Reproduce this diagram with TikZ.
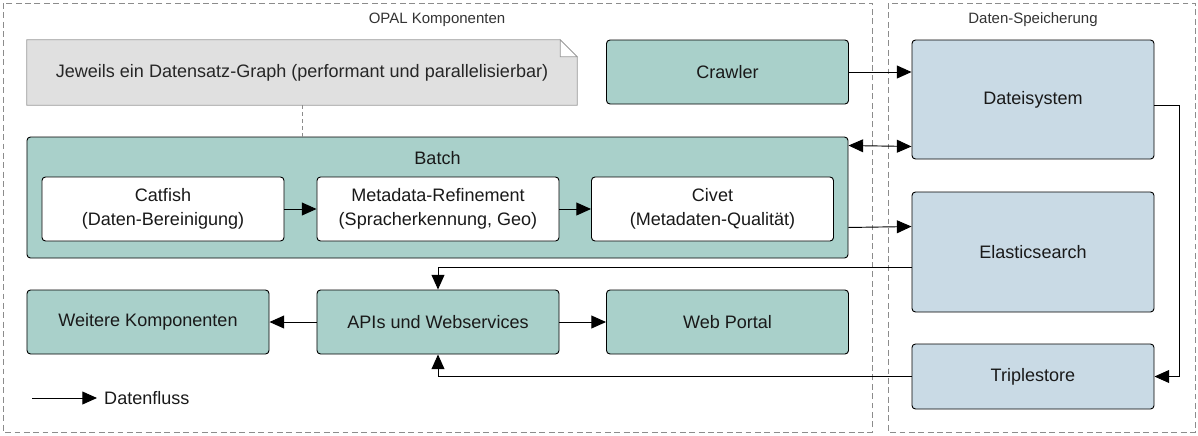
\documentclass[tikz,border=0pt]{standalone}
\usepackage{fontspec}
\setmainfont{Liberation Sans}
\usetikzlibrary{arrows.meta, positioning, calc, backgrounds}

\definecolor{compgreen}{HTML}{A9D0CA}
\definecolor{storeblue}{HTML}{C9DAE5}
\definecolor{notegray}{HTML}{E0E0E0}
\definecolor{framegray}{HTML}{8C8C8C}

\begin{document}
\begin{tikzpicture}[x=0.03cm, y=-0.03cm,
    box/.style={draw, rounded corners=3pt, line width=0.8pt, align=center, inner sep=0pt,
      font=\fontsize{15.4}{20.5}\selectfont, text=black!90},
    comp/.style={box, fill=compgreen, minimum width=7.26cm, minimum height=1.92cm},
    sub/.style={box, fill=white, minimum width=7.26cm, minimum height=1.92cm},
    store/.style={box, fill=storeblue, minimum width=7.26cm},
    frame/.style={draw=framegray, dash pattern=on 5pt off 3pt, line width=0.6pt},
    caption/.style={font=\fontsize{12.8}{15}\selectfont, text=black!80},
    flow/.style={-{Triangle[length=12.5pt, width=11pt]}, line width=0.8pt},
    flowboth/.style={{Triangle[length=12.5pt, width=11pt]}-{Triangle[length=12.5pt, width=11pt]}, line width=0.8pt}]
  \useasboundingbox (0,0) rectangle (1198,435);

  % frames
  \draw[frame] (3,3) rectangle (872,432);
  \draw[frame] (888,3) rectangle (1195,432);
  \node[caption] (opal) at (437,20) {OPAL Komponenten};
  \node[caption] (speicher) at (1033,20) {Daten-Speicherung};

  % note
  \node[font=\fontsize{15.4}{20.5}\selectfont, text=black!85, minimum width=16.5cm, minimum height=1.95cm] (note) at (302,72.5)
    {Jeweils ein Datensatz-Graph (performant und parallelisierbar)};
  \begin{scope}[on background layer]
    \draw[draw=black!40, fill=notegray, line width=0.6pt] (note.north west) -- ($(note.north east)+(-17,0)$)
      -- ($(note.north east)+(0,17)$) -- (note.south east) -- (note.south west) -- cycle;
    \draw[draw=black!40, fill=white, line width=0.6pt] ($(note.north east)+(-17,0)$) -- ($(note.north east)+(-17,17)$)
      -- ($(note.north east)+(0,17)$) -- cycle;
  \end{scope}

  % components
  \node[comp] (crawler) at (727.5,72) {Crawler};
  \node[comp, minimum width=24.63cm, minimum height=3.63cm] (batch) at (437.5,197.5) {};
  \node[box, draw=none, fill=none] (batchlbl) at (437.5,158) {Batch};
  \node[sub] (catfish) at (163,209) {Catfish\\(Daten-Bereinigung)};
  \node[sub] (refine) at (438,209) {Metadata-Refinement\\(Spracherkennung, Geo)};
  \node[sub] (civet) at (712.5,209) {Civet\\(Metadaten-Qualität)};
  \node[comp] (weitere) at (148,322) {Weitere Komponenten};
  \node[comp] (apis) at (438,322) {APIs und Webservices};
  \node[comp] (portal) at (727.5,322) {Web Portal};

  % storage
  \node[store, minimum height=3.57cm] (dateisystem) at (1033,99.5) {Dateisystem};
  \node[store, minimum height=3.6cm] (elastic) at (1033,252) {Elasticsearch};
  \node[store, minimum height=1.95cm] (triple) at (1033,376.5) {Triplestore};

  \draw[dashed, draw=black!45, line width=0.6pt] (note.south) -- (note.south |- batch.north);

  % data flow
  \draw[flow] (crawler.east) -- (crawler.east -| dateisystem.west);
  \draw[flowboth] ($(batch.north east)+(0,9)$) -- ($(dateisystem.south west)+(0,-13)$);
  \draw[flow] ($(batch.south east)+(0,-31)$) -- ($(elastic.north west)+(0,35)$);
  \draw[flow] (catfish) -- (refine);
  \draw[flow] (refine) -- (civet);
  \draw[flow] ($(elastic.south west)+(0,-45)$) -| (apis.north);
  \draw[flow] (triple.west) -| (apis.south);
  \draw[flow] ($(dateisystem.east)+(0,6)$) -- ++(25,0) |- (triple.east);
  \draw[flow] (apis) -- (weitere);
  \draw[flow] (apis) -- (portal);

  % legend
  \coordinate (legstart) at (32,398);
  \node[anchor=west, inner sep=0pt, font=\fontsize{15.4}{20.5}\selectfont, text=black!90] (legtext) at (104,398) {Datenfluss};
  \draw[flow] (legstart) -- ($(legtext.west)+(-7,0)$);
\end{tikzpicture}
\end{document}
